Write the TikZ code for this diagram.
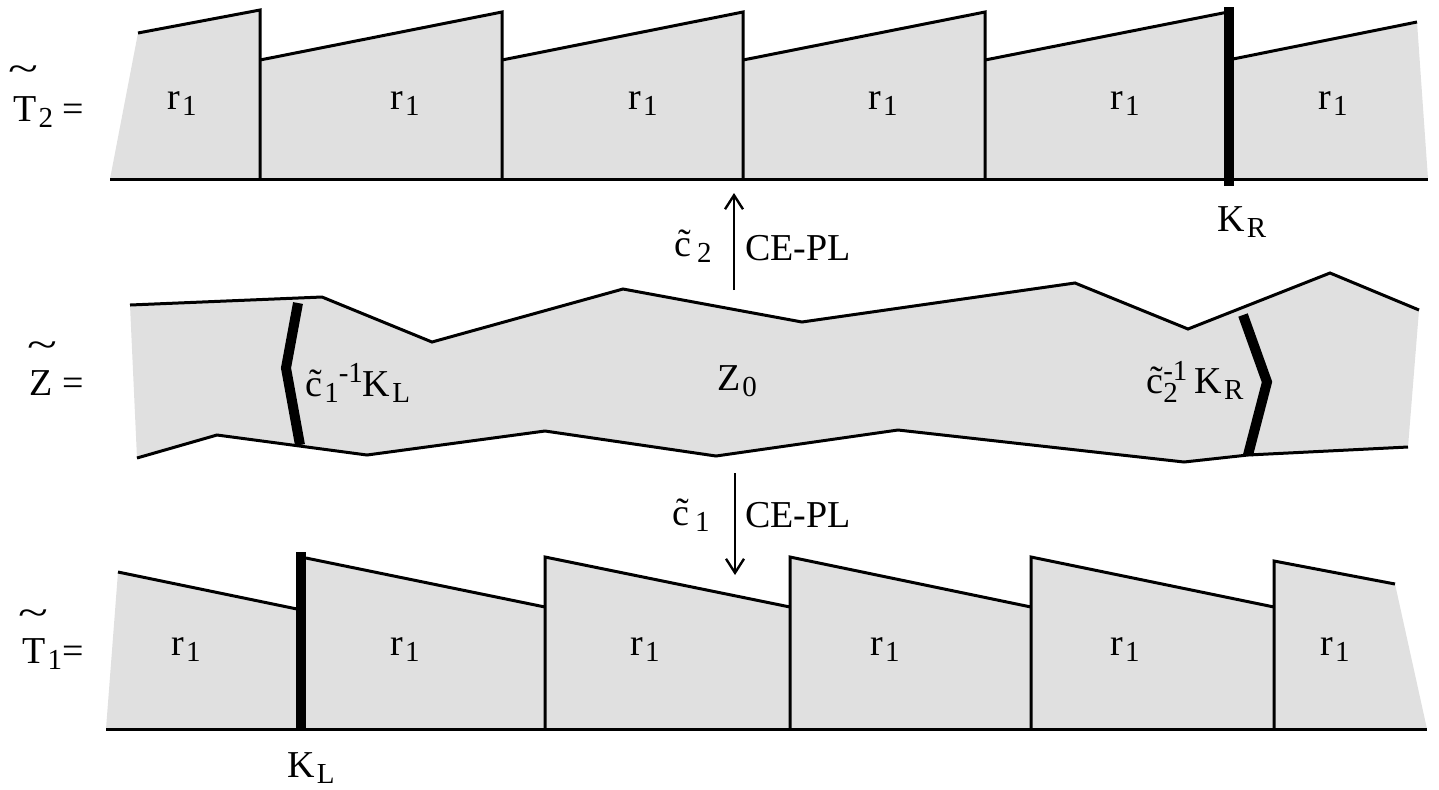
\documentclass[tikz,border=0pt]{standalone}
\usepackage{fontspec}
\setmainfont{Liberation Serif}
\usetikzlibrary{arrows.meta}
\definecolor{slabgray}{HTML}{E0E0E0}
\newcommand{\lowidx}[1]{\kern1pt\raisebox{-3pt}{\fontsize{14.5}{14.5}\selectfont #1}}
\newcommand{\highidx}[1]{\raisebox{7pt}{\fontsize{14.5}{14.5}\selectfont #1}}
\newcommand{\plainidx}[1]{\mbox{\fontsize{14.5}{14.5}\selectfont #1}}
\newcommand{\bigtilde}{\scalebox{1.45}[1]{\textasciitilde}}

\begin{document}
\begin{tikzpicture}[x=0.5pt, y=-0.5pt,
  slab/.style={fill=slabgray, draw=none},
  rim/.style={line width=1.5pt, line join=miter},
  cut/.style={line width=5pt, line join=miter},
  lbl/.style={font=\fontsize{19}{23}\selectfont, inner sep=0pt},
  map/.style={line width=1.2pt, -{Straight Barb[length=7pt, width=9pt, line width=1.2pt]}}]
  \useasboundingbox (0,0) rectangle (1439,789);

  % upper sheet
  \fill[slab] (110,179) -- (138,33) -- (260,10) -- (260,179) -- cycle;
  \foreach \xa/\xb in {260/502, 502/743, 743/985, 985/1228}
    \fill[slab] (\xa,179) -- (\xa,60) -- (\xb,12) -- (\xb,179) -- cycle;
  \fill[slab] (1228,179) -- (1228,60) -- (1417,22) -- (1428,179) -- cycle;
  \draw[rim] (138,33) -- (260,10) -- (260,179);
  \foreach \xa/\xb in {260/502, 502/743, 743/985}
    \draw[rim] (\xa,60) -- (\xb,12) -- (\xb,179);
  \draw[rim] (985,60) -- (1228,12);
  \draw[rim] (1228,60) -- (1417,22);
  \draw[rim] (110,179) -- (1428,179);
  \draw[cut] (1229,7) -- (1229,186);
  \foreach \x [count=\i] in {182,405,643,883,1125,1333}
    \node[lbl] (upr\i) at (\x,104) {r\lowidx{1}};
  \node[lbl, anchor=base west] (krlab) at (1217,231) {K\lowidx{R}};

  % middle sheet
  \fill[slab] (130,305) -- (322,297) -- (432,342) -- (623,289) -- (802,322)
    -- (1075,283) -- (1188,329) -- (1330,273) -- (1419,310) -- (1408,447)
    -- (1248,455) -- (1184,462) -- (898,430) -- (716,456) -- (545,431)
    -- (367,455) -- (217,435) -- (137,458) -- cycle;
  \draw[rim] (130,305) -- (322,297) -- (432,342) -- (623,289) -- (802,322)
    -- (1075,283) -- (1188,329) -- (1330,273) -- (1419,310);
  \draw[rim] (137,458) -- (217,435) -- (367,455) -- (545,431) -- (716,456)
    -- (898,430) -- (1184,462) -- (1248,455) -- (1408,447);
  \draw[cut] (298,303) -- (286,368) -- (300,445);
  \draw[cut] (1243,315) -- (1267,382) -- (1248,455);
  \node[lbl, anchor=base west] (klz) at (305,396) {\~{c}\lowidx{1}\highidx{-1}K\lowidx{L}};
  \node[lbl, anchor=base] (z0) at (737,390) {Z\lowidx{0}};
  \node[lbl, anchor=base west] (krz) at (1146,393) {\~{c}$^{\plainidx{-1}}_{\plainidx{2}}$\,K\lowidx{R}};

  % lower sheet
  \fill[slab] (106,729) -- (118,572) -- (297,609) -- (297,729) -- cycle;
  \foreach \xa/\xb in {301/545, 545/790, 790/1031, 1031/1274}
    \fill[slab] (\xa,729) -- (\xa,557) -- (\xb,607) -- (\xb,729) -- cycle;
  \fill[slab] (1274,729) -- (1274,561) -- (1395,584) -- (1427,729) -- cycle;
  \draw[rim] (118,572) -- (297,609);
  \draw[rim] (306,558) -- (545,607);
  \foreach \xa/\xb in {545/790, 790/1031, 1031/1274}
    \draw[rim] (\xa,729) -- (\xa,557) -- (\xb,607);
  \draw[rim] (1274,729) -- (1274,561) -- (1395,584);
  \draw[rim] (106,729) -- (1427,729);
  \draw[cut] (301,552) -- (301,731);
  \foreach \x [count=\i] in {186,405,645,885,1125,1335}
    \node[lbl] (lor\i) at (\x,650) {r\lowidx{1}};
  \node[lbl, anchor=base west] (kllab) at (287,777) {K\lowidx{L}};

  % maps between the sheets
  \coordinate (zup) at (734,290);
  \coordinate (tup) at (734,193);
  \draw[map] (zup) -- (tup);
  \node[lbl, anchor=base east] (c2) at (712,256) {\~{c}\kern2pt\lowidx{2}};
  \node[lbl, anchor=base west] (ce2) at (745,260) {CE-PL};
  \coordinate (zdn) at (735,473);
  \coordinate (tdn) at (735,575);
  \draw[map] (zdn) -- (tdn);
  \node[lbl, anchor=base east] (c1) at (710,525) {\~{c}\kern2pt\lowidx{1}};
  \node[lbl, anchor=base west] (ce1) at (745,527) {CE-PL};

  % names of the sheets
  \node[lbl, anchor=base west] (t2lab) at (13,121) {T\lowidx{2} =};
  \node[lbl, anchor=base] (t2tl) at (23,81) {\bigtilde};
  \node[lbl, anchor=base west] (zlab) at (29,395) {Z =};
  \node[lbl, anchor=base] (ztl) at (42,357) {\bigtilde};
  \node[lbl, anchor=base west] (t1lab) at (22,663) {T\lowidx{1}=};
  \node[lbl, anchor=base] (t1tl) at (33,625) {\bigtilde};
\end{tikzpicture}
\end{document}
